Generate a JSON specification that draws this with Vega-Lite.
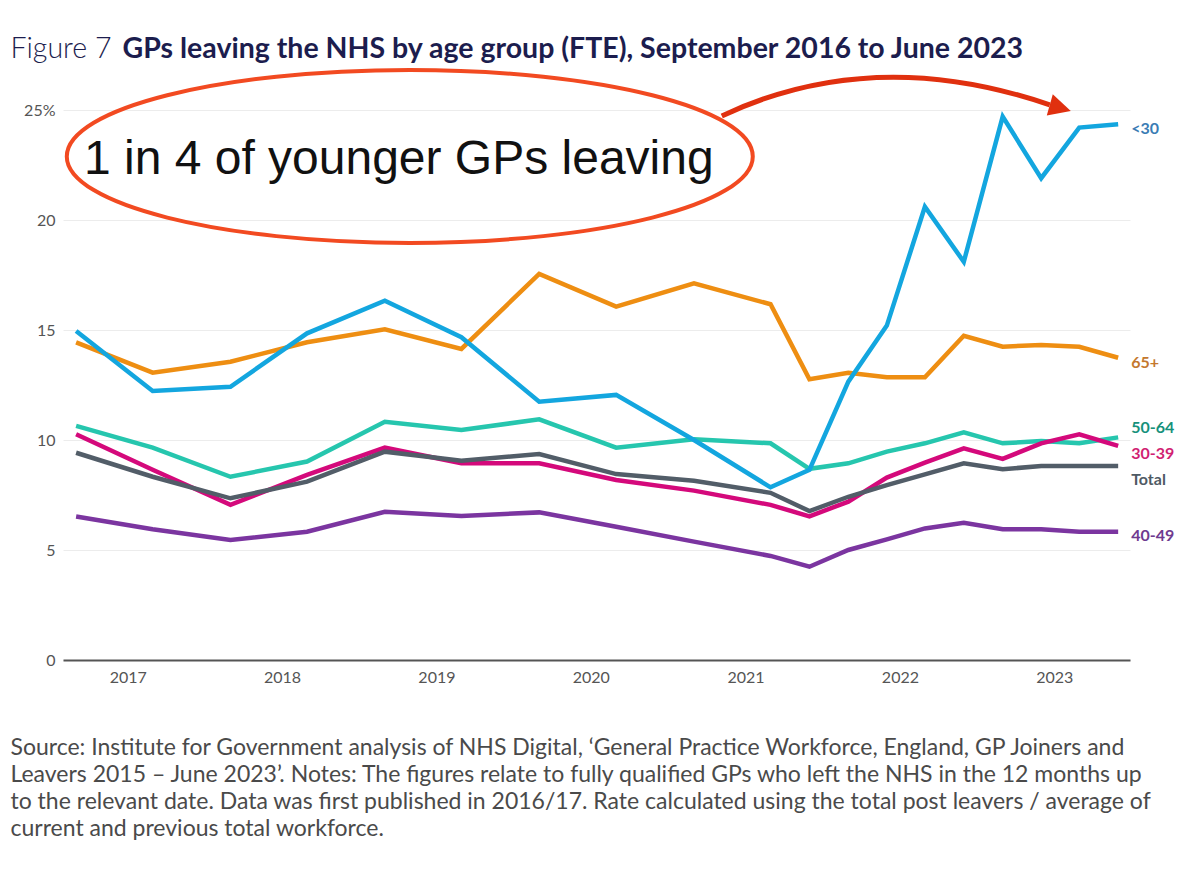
{
  "$schema": "https://vega.github.io/schema/vega-lite/v6.json",
  "width": 1067,
  "height": 550,
  "autosize": "none",
  "padding": {"left": 63, "top": 110, "right": 70, "bottom": 221},
  "background": "white",
  "config": {"view": {"stroke": null}, "font": "Lato"},
  "datasets": {
    "gp": [
      {"series": "40-49", "date": "2016-09-01", "value": 6.52},
      {"series": "40-49", "date": "2017-03-01", "value": 5.94},
      {"series": "40-49", "date": "2017-09-01", "value": 5.45},
      {"series": "40-49", "date": "2018-03-01", "value": 5.83},
      {"series": "40-49", "date": "2018-09-01", "value": 6.74},
      {"series": "40-49", "date": "2019-03-01", "value": 6.55},
      {"series": "40-49", "date": "2019-09-01", "value": 6.71},
      {"series": "40-49", "date": "2020-03-01", "value": 6.06},
      {"series": "40-49", "date": "2020-09-01", "value": 5.38},
      {"series": "40-49", "date": "2021-03-01", "value": 4.73},
      {"series": "40-49", "date": "2021-06-01", "value": 4.24},
      {"series": "40-49", "date": "2021-09-01", "value": 5.0},
      {"series": "40-49", "date": "2021-12-01", "value": 5.48},
      {"series": "40-49", "date": "2022-03-01", "value": 5.98},
      {"series": "40-49", "date": "2022-06-01", "value": 6.24},
      {"series": "40-49", "date": "2022-09-01", "value": 5.94},
      {"series": "40-49", "date": "2022-12-01", "value": 5.94},
      {"series": "40-49", "date": "2023-03-01", "value": 5.83},
      {"series": "40-49", "date": "2023-06-01", "value": 5.83},
      {"series": "50-64", "date": "2016-09-01", "value": 10.64},
      {"series": "50-64", "date": "2017-03-01", "value": 9.65},
      {"series": "50-64", "date": "2017-09-01", "value": 8.33},
      {"series": "50-64", "date": "2018-03-01", "value": 9.02},
      {"series": "50-64", "date": "2018-09-01", "value": 10.83},
      {"series": "50-64", "date": "2019-03-01", "value": 10.45},
      {"series": "50-64", "date": "2019-09-01", "value": 10.94},
      {"series": "50-64", "date": "2020-03-01", "value": 9.65},
      {"series": "50-64", "date": "2020-09-01", "value": 10.03},
      {"series": "50-64", "date": "2021-03-01", "value": 9.85},
      {"series": "50-64", "date": "2021-06-01", "value": 8.69},
      {"series": "50-64", "date": "2021-09-01", "value": 8.94},
      {"series": "50-64", "date": "2021-12-01", "value": 9.47},
      {"series": "50-64", "date": "2022-03-01", "value": 9.85},
      {"series": "50-64", "date": "2022-06-01", "value": 10.35},
      {"series": "50-64", "date": "2022-09-01", "value": 9.85},
      {"series": "50-64", "date": "2022-12-01", "value": 9.95},
      {"series": "50-64", "date": "2023-03-01", "value": 9.85},
      {"series": "50-64", "date": "2023-06-01", "value": 10.12},
      {"series": "30-39", "date": "2016-09-01", "value": 10.26},
      {"series": "30-39", "date": "2017-03-01", "value": 8.65},
      {"series": "30-39", "date": "2017-09-01", "value": 7.05},
      {"series": "30-39", "date": "2018-03-01", "value": 8.41},
      {"series": "30-39", "date": "2018-09-01", "value": 9.65},
      {"series": "30-39", "date": "2019-03-01", "value": 8.94},
      {"series": "30-39", "date": "2019-09-01", "value": 8.94},
      {"series": "30-39", "date": "2020-03-01", "value": 8.18},
      {"series": "30-39", "date": "2020-09-01", "value": 7.7},
      {"series": "30-39", "date": "2021-03-01", "value": 7.05},
      {"series": "30-39", "date": "2021-06-01", "value": 6.53},
      {"series": "30-39", "date": "2021-09-01", "value": 7.2},
      {"series": "30-39", "date": "2021-12-01", "value": 8.29},
      {"series": "30-39", "date": "2022-03-01", "value": 8.97},
      {"series": "30-39", "date": "2022-06-01", "value": 9.62},
      {"series": "30-39", "date": "2022-09-01", "value": 9.14},
      {"series": "30-39", "date": "2022-12-01", "value": 9.85},
      {"series": "30-39", "date": "2023-03-01", "value": 10.26},
      {"series": "30-39", "date": "2023-06-01", "value": 9.73},
      {"series": "Total", "date": "2016-09-01", "value": 9.42},
      {"series": "Total", "date": "2017-03-01", "value": 8.33},
      {"series": "Total", "date": "2017-09-01", "value": 7.35},
      {"series": "Total", "date": "2018-03-01", "value": 8.11},
      {"series": "Total", "date": "2018-09-01", "value": 9.47},
      {"series": "Total", "date": "2019-03-01", "value": 9.06},
      {"series": "Total", "date": "2019-09-01", "value": 9.36},
      {"series": "Total", "date": "2020-03-01", "value": 8.45},
      {"series": "Total", "date": "2020-09-01", "value": 8.15},
      {"series": "Total", "date": "2021-03-01", "value": 7.6},
      {"series": "Total", "date": "2021-06-01", "value": 6.77},
      {"series": "Total", "date": "2021-09-01", "value": 7.42},
      {"series": "Total", "date": "2021-12-01", "value": 7.95},
      {"series": "Total", "date": "2022-03-01", "value": 8.44},
      {"series": "Total", "date": "2022-06-01", "value": 8.94},
      {"series": "Total", "date": "2022-09-01", "value": 8.67},
      {"series": "Total", "date": "2022-12-01", "value": 8.82},
      {"series": "Total", "date": "2023-03-01", "value": 8.82},
      {"series": "Total", "date": "2023-06-01", "value": 8.82},
      {"series": "65+", "date": "2016-09-01", "value": 14.44},
      {"series": "65+", "date": "2017-03-01", "value": 13.06},
      {"series": "65+", "date": "2017-09-01", "value": 13.56},
      {"series": "65+", "date": "2018-03-01", "value": 14.44},
      {"series": "65+", "date": "2018-09-01", "value": 15.03},
      {"series": "65+", "date": "2019-03-01", "value": 14.14},
      {"series": "65+", "date": "2019-09-01", "value": 17.55},
      {"series": "65+", "date": "2020-03-01", "value": 16.06},
      {"series": "65+", "date": "2020-09-01", "value": 17.12},
      {"series": "65+", "date": "2021-03-01", "value": 16.17},
      {"series": "65+", "date": "2021-06-01", "value": 12.76},
      {"series": "65+", "date": "2021-09-01", "value": 13.06},
      {"series": "65+", "date": "2021-12-01", "value": 12.85},
      {"series": "65+", "date": "2022-03-01", "value": 12.85},
      {"series": "65+", "date": "2022-06-01", "value": 14.74},
      {"series": "65+", "date": "2022-09-01", "value": 14.24},
      {"series": "65+", "date": "2022-12-01", "value": 14.32},
      {"series": "65+", "date": "2023-03-01", "value": 14.24},
      {"series": "65+", "date": "2023-06-01", "value": 13.74},
      {"series": "<30", "date": "2016-09-01", "value": 14.95},
      {"series": "<30", "date": "2017-03-01", "value": 12.23},
      {"series": "<30", "date": "2017-09-01", "value": 12.42},
      {"series": "<30", "date": "2018-03-01", "value": 14.85},
      {"series": "<30", "date": "2018-09-01", "value": 16.33},
      {"series": "<30", "date": "2019-03-01", "value": 14.67},
      {"series": "<30", "date": "2019-09-01", "value": 11.74},
      {"series": "<30", "date": "2020-03-01", "value": 12.05},
      {"series": "<30", "date": "2020-09-01", "value": 10.0},
      {"series": "<30", "date": "2021-03-01", "value": 7.85},
      {"series": "<30", "date": "2021-06-01", "value": 8.64},
      {"series": "<30", "date": "2021-09-01", "value": 12.65},
      {"series": "<30", "date": "2021-12-01", "value": 15.2},
      {"series": "<30", "date": "2022-03-01", "value": 20.6},
      {"series": "<30", "date": "2022-06-01", "value": 18.1},
      {"series": "<30", "date": "2022-09-01", "value": 24.7},
      {"series": "<30", "date": "2022-12-01", "value": 21.9},
      {"series": "<30", "date": "2023-03-01", "value": 24.2},
      {"series": "<30", "date": "2023-06-01", "value": 24.35}
    ],
    "ellipse": [{"date": "2018-10-30", "value": 22.89}],
    "note": [{"date": "2018-10-04", "value": 22.1, "label": "1 in 4 of younger GPs leaving"}]
  },
  "resolve": {"axis": {"x": "independent"}},
  "encoding": {
    "x": {
      "field": "date", "type": "temporal",
      "scale": {"type": "utc", "domain": [{"year": 2016, "month": 8, "date": 1, "utc": true}, {"year": 2023, "month": 6, "date": 29, "utc": true}]},
      "axis": null
    },
    "y": {
      "field": "value", "type": "quantitative",
      "scale": {"domain": [0, 25], "nice": false},
      "axis": {
        "values": [0, 5, 10, 15, 20, 25],
        "labelExpr": "datum.value === 25 ? '25%' : datum.label",
        "ticks": false, "domain": false,
        "grid": true, "gridColor": "#ececec", "gridWidth": 1,
        "labelFont": "Lato", "labelFontSize": 16, "labelColor": "#555555", "labelPadding": 8,
        "title": "Figure 7",
        "titleAngle": 0, "titleAlign": "left", "titleBaseline": "alphabetic",
        "titleX": -53, "titleY": -53,
        "titleFont": "Lato", "titleFontSize": 28.5, "titleFontWeight": 300, "titleColor": "#1c1d4e"
      }
    }
  },
  "layer": [
    {
      "data": {"name": "gp"},
      "mark": {"type": "line", "strokeWidth": 4.5, "strokeCap": "butt", "strokeJoin": "miter"},
      "encoding": {
        "x": {
          "field": "date", "type": "temporal",
          "axis": {
            "orient": "bottom",
            "format": "%Y",
            "tickCount": {"interval": "year", "step": 1},
            "grid": false, "ticks": false,
            "domain": true, "domainColor": "#555555", "domainWidth": 2,
            "labelFont": "Lato", "labelFontSize": 16, "labelColor": "#555555", "labelPadding": 9,
            "title": [
              "Source: Institute for Government analysis of NHS Digital, ‘General Practice Workforce, England, GP Joiners and",
              "Leavers 2015 – June 2023’. Notes: The figures relate to fully qualified GPs who left the NHS in the 12 months up",
              "to the relevant date. Data was first published in 2016/17. Rate calculated using the total post leavers / average of",
              "current and previous total workforce."
            ],
            "titleFont": "Lato", "titleFontSize": 23, "titleFontWeight": "normal", "titleColor": "#4a4a4a",
            "titleAlign": "left", "titleAnchor": "start", "titleBaseline": "alphabetic",
            "titleX": -53, "titleY": 94, "titleLineHeight": 27
          }
        },
        "color": {
          "field": "series", "type": "nominal", "legend": null,
          "scale": {
            "domain": ["40-49", "50-64", "30-39", "Total", "65+", "<30"],
            "range": ["#7b35a0", "#26c6ae", "#d4097b", "#525d68", "#ee8e12", "#13a6df"]
          }
        }
      }
    },
    {
      "data": {"name": "gp"},
      "transform": [{"filter": "datum.series === '<30' && +toDate(datum.date) === utc(2023,5,1)"}],
      "mark": {"type": "text", "align": "left", "baseline": "middle", "dx": 13, "dy": 5, "font": "Lato", "fontWeight": "bold", "fontSize": 16, "color": "#3a7cb4"},
      "encoding": {"text": {"field": "series"}}
    },
    {
      "data": {"name": "gp"},
      "transform": [{"filter": "datum.series === '65+' && +toDate(datum.date) === utc(2023,5,1)"}],
      "mark": {"type": "text", "align": "left", "baseline": "middle", "dx": 13, "dy": 5, "font": "Lato", "fontWeight": "bold", "fontSize": 16, "color": "#c4782e"},
      "encoding": {"text": {"field": "series"}}
    },
    {
      "data": {"name": "gp"},
      "transform": [{"filter": "datum.series === '50-64' && +toDate(datum.date) === utc(2023,5,1)"}],
      "mark": {"type": "text", "align": "left", "baseline": "middle", "dx": 13, "dy": -9, "font": "Lato", "fontWeight": "bold", "fontSize": 16, "color": "#16917b"},
      "encoding": {"text": {"field": "series"}}
    },
    {
      "data": {"name": "gp"},
      "transform": [{"filter": "datum.series === '30-39' && +toDate(datum.date) === utc(2023,5,1)"}],
      "mark": {"type": "text", "align": "left", "baseline": "middle", "dx": 13, "dy": 8, "font": "Lato", "fontWeight": "bold", "fontSize": 16, "color": "#d11f72"},
      "encoding": {"text": {"field": "series"}}
    },
    {
      "data": {"name": "gp"},
      "transform": [{"filter": "datum.series === 'Total' && +toDate(datum.date) === utc(2023,5,1)"}],
      "mark": {"type": "text", "align": "left", "baseline": "middle", "dx": 13, "dy": 14, "font": "Lato", "fontWeight": "bold", "fontSize": 16, "color": "#4f5a64"},
      "encoding": {"text": {"field": "series"}}
    },
    {
      "data": {"name": "gp"},
      "transform": [{"filter": "datum.series === '40-49' && +toDate(datum.date) === utc(2023,5,1)"}],
      "mark": {"type": "text", "align": "left", "baseline": "middle", "dx": 13, "dy": 4, "font": "Lato", "fontWeight": "bold", "fontSize": 16, "color": "#6f3a8f"},
      "encoding": {"text": {"field": "series"}}
    },
    {
      "data": {"name": "ellipse"},
      "mark": {"type": "point", "shape": "M -343 0 A 343 86.5 0 1 0 343 0 A 343 86.5 0 1 0 -343 0 Z", "size": 4, "filled": false, "stroke": "#f24a21", "strokeWidth": 4, "opacity": 1},
      "encoding": {
        "x": {
          "field": "date", "type": "temporal",
          "axis": {
            "orient": "top", "labels": false, "ticks": false, "domain": false, "grid": false,
            "title": "GPs leaving the NHS by age group (FTE), September 2016 to June 2023",
            "titleFont": "Lato", "titleFontSize": 28.5, "titleFontWeight": "bold", "titleColor": "#1c1d4e",
            "titleAlign": "left", "titleAnchor": "start", "titleBaseline": "alphabetic",
            "titleX": 59, "titleY": -53
          }
        }
      }
    },
    {
      "data": {"name": "ellipse"},
      "mark": {"type": "point", "shape": "M 312 -40.5 Q 464 -112 640 -51.5", "size": 4, "filled": false, "stroke": "#e0300f", "strokeWidth": 5, "opacity": 1},
      "encoding": {}
    },
    {
      "data": {"name": "ellipse"},
      "mark": {"type": "point", "shape": "M 661 -45.5 L 637 -40.9 L 643 -62.1 Z", "size": 4, "filled": true, "fill": "#e0300f", "strokeWidth": 0, "opacity": 1},
      "encoding": {}
    },
    {
      "data": {"name": "note"},
      "mark": {"type": "text", "align": "center", "baseline": "alphabetic", "font": "Liberation Sans", "fontSize": 48, "color": "#111111"},
      "encoding": {"text": {"field": "label"}}
    }
  ]
}
